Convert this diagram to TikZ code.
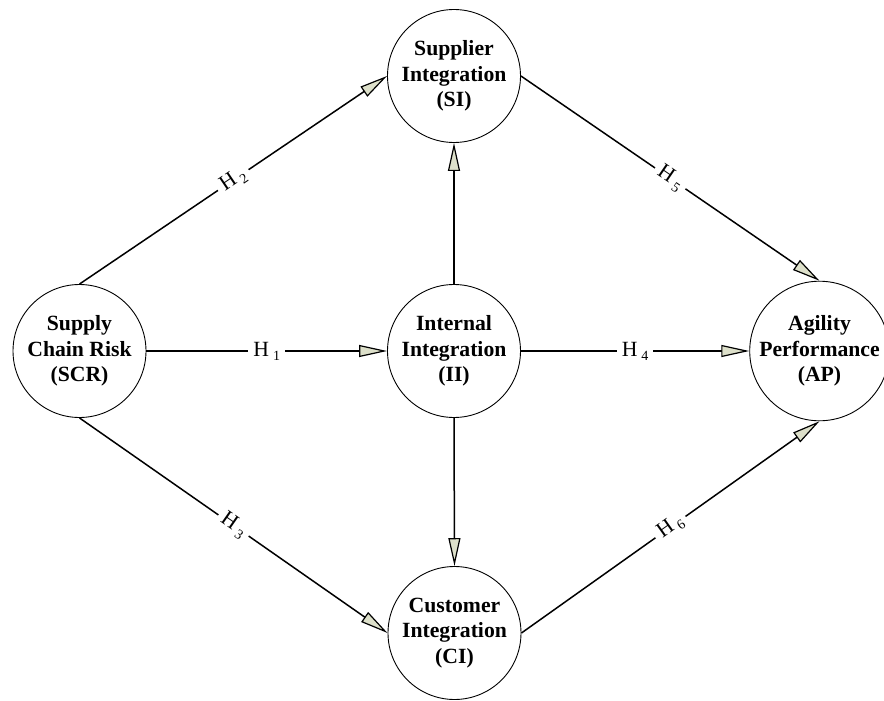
\documentclass[tikz,border=0pt]{standalone}
\usepackage{fontspec}
\setmainfont{Liberation Serif}
\usetikzlibrary{arrows.meta}
\definecolor{headfill}{HTML}{DDE0CA}
\tikzset{
  construct/.style={circle, draw, line width=0.9pt, minimum size=133pt, inner sep=0pt,
    align=center, font=\fontsize{21.7}{25.5}\selectfont\bfseries},
  path/.style={line width=1.5pt, -{Triangle[length=28pt, width=12pt, fill=headfill, line width=1.2pt]}},
  hyp/.style={midway, sloped, fill=white, inner sep=5pt, font=\fontsize{21.7}{22}\selectfont}
}
\newcommand{\hyplabel}[1]{H\kern4pt\raisebox{-4pt}{\fontsize{14}{14}\selectfont #1}}
\begin{document}
\begin{tikzpicture}[x=1pt, y=-1pt]
\useasboundingbox (0,0) rectangle (884,701);
\node[construct] (si)  at (454,76)    {Supplier\\Integration\\(SI)};
\node[construct] (ii)  at (454,351)   {Internal\\Integration\\(II)};
\node[construct] (scr) at (79.5,351)  {Supply\\Chain Risk\\(SCR)};
\node[construct] (ap)  at (819.5,351) {Agility\\Performance\\(AP)};
\node[construct] (ci)  at (454.5,633) {Customer\\Integration\\(CI)};

\draw[path] (scr.east) -- node[hyp] {\hyplabel{1}} (ii.west);
\draw[path] (scr.north) -- node[hyp] {\hyplabel{2}} (si.west);
\draw[path] (scr.south) -- node[hyp] {\hyplabel{3}} (ci.west);
\draw[path] (ii.east) -- node[hyp] {\hyplabel{4}} (ap.west);
\draw[path] (si.east) -- node[hyp] {\hyplabel{5}} (ap.north);
\draw[path] (ci.east) -- node[hyp] {\hyplabel{6}} (ap.south);
\draw[path] (ii.north) -- (si.south);
\draw[path] (ii.south) -- (ci.north);
\end{tikzpicture}
\end{document}
